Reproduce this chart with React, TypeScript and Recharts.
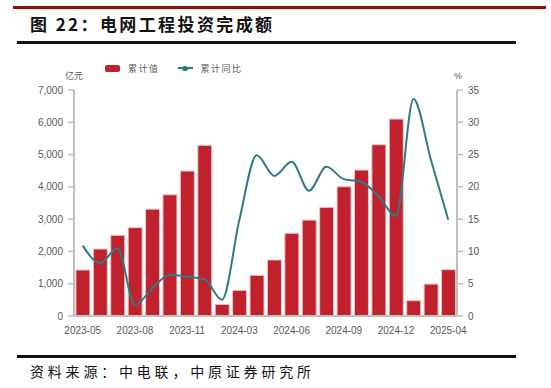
import React from "react";
import { ComposedChart, Bar, Line, XAxis, YAxis } from "recharts";

const categories = [
  "2023-05", "2023-06", "2023-07", "2023-08", "2023-09", "2023-10", "2023-11", "2023-12",
  "2024-02", "2024-03", "2024-04", "2024-05", "2024-06", "2024-07", "2024-08", "2024-09",
  "2024-10", "2024-11", "2024-12", "2025-02", "2025-03", "2025-04",
];
const cumulativeValue = [
  1425, 2075, 2500, 2735, 3310, 3755, 4490, 5285,
  360, 795, 1260, 1735, 2560, 2970, 3365, 4005,
  4520, 5305, 6100, 475, 990, 1435,
];
const cumulativeYoY = [
  10.9, 8.2, 10.5, 1.7, 4.3, 6.4, 6.1, 5.7,
  2.5, 14.9, 24.9, 21.7, 23.9, 19.4, 23.1, 21.2,
  20.8, 18.5, 15.5, 33.6, 24.2, 14.9,
];
const leftTicks = [0, 1000, 2000, 3000, 4000, 5000, 6000, 7000];
const rightTicks = [0, 5, 10, 15, 20, 25, 30, 35];

const data = categories.map((c, i) => ({
  name: c,
  value: cumulativeValue[i],
  yoy: cumulativeYoY[i],
}));

const RED = "#C0212C";
const TEAL = "#2F7B83";
const AXIS = "#BFBFBF";
const tickStyle = { fontSize: 10, fill: "#595959", fontFamily: "Liberation Sans, Arial, sans-serif" };

export default function App() {
  return (
    <div style={{ position: "absolute", left: 0, top: 0, width: 551, height: 388, background: "#fff", overflow: "hidden" }}>
      <div style={{ position: "absolute", left: 13, top: 6, width: 533, height: 2.5, background: "#8E0E0E" }} />
      <div
        style={{
          position: "absolute", left: 30, top: 13, fontSize: 17, fontWeight: 700, letterSpacing: 2.4,
          fontFamily: "'Noto Sans CJK SC', sans-serif", color: "#111", lineHeight: "22px", whiteSpace: "nowrap",
        }}
      >
        图 22：电网工程投资完成额
      </div>
      <div style={{ position: "absolute", left: 17, top: 41, width: 499, height: 2.5, background: "#111" }} />

      <div style={{ position: "absolute", left: 0, top: 0 }}>
        <ComposedChart
          width={551}
          height={350}
          data={data}
          margin={{ top: 90, right: 0, bottom: 4, left: 0 }}
          barCategoryGap="11%"
        >
          <XAxis
            dataKey="name"
            interval={2}
            tickLine={false}
            axisLine={{ stroke: AXIS, strokeWidth: 2 }}
            tick={tickStyle}
            tickMargin={5}
            height={30}
          />
          <YAxis
            yAxisId="left"
            orientation="left"
            width={74}
            domain={[0, 7000]}
            ticks={leftTicks}
            interval={0}
            tickFormatter={(v: number) => v.toLocaleString("en-US")}
            axisLine={{ stroke: AXIS, strokeWidth: 2 }}
            tickLine={{ stroke: AXIS, strokeWidth: 1.5 }}
            tickSize={6}
            tickMargin={5}
            tick={tickStyle}
          />
          <YAxis
            yAxisId="right"
            orientation="right"
            width={94}
            domain={[0, 35]}
            ticks={rightTicks}
            interval={0}
            axisLine={{ stroke: AXIS, strokeWidth: 2 }}
            tickLine={{ stroke: AXIS, strokeWidth: 1.5 }}
            tickSize={6}
            tickMargin={5}
            tick={tickStyle}
          />
          <Bar yAxisId="left" dataKey="value" fill={RED} stroke="#EBC9CB" strokeWidth={1} isAnimationActive={false} />
          <Line
            yAxisId="right"
            dataKey="yoy"
            type="monotone"
            stroke={TEAL}
            strokeWidth={2}
            dot={false}
            isAnimationActive={false}
          />
        </ComposedChart>
      </div>

      <div style={{ position: "absolute", left: 65, top: 70, fontSize: 9, color: "#595959", fontFamily: "'Noto Sans CJK SC', sans-serif", lineHeight: "12px" }}>亿元</div>
      <div style={{ position: "absolute", left: 454, top: 70, fontSize: 9, color: "#595959", fontFamily: "Liberation Sans, sans-serif", lineHeight: "12px" }}>%</div>

      <div style={{ position: "absolute", left: 105, top: 62, height: 12, display: "flex", alignItems: "center", fontSize: 9, color: "#595959", fontFamily: "'Noto Sans CJK SC', sans-serif", whiteSpace: "nowrap" }}>
        <span style={{ display: "inline-block", width: 15, height: 7, background: RED, borderRadius: 2, marginRight: 8 }} />
        <span style={{ letterSpacing: 1.5 }}>累计值</span>
        <span style={{ display: "inline-block", position: "relative", width: 15, height: 7, marginLeft: 18, marginRight: 8 }}>
          <span style={{ position: "absolute", left: 0, top: 2.5, width: 15, height: 2, background: TEAL }} />
          <span style={{ position: "absolute", left: 4.5, top: 1, width: 6, height: 5, borderRadius: 3, background: TEAL }} />
        </span>
        <span style={{ letterSpacing: 1.5 }}>累计同比</span>
      </div>

      <div style={{ position: "absolute", left: 17, top: 355, width: 499, height: 3, background: "#111" }} />
      <div
        style={{
          position: "absolute", left: 30, top: 362, fontSize: 14, letterSpacing: 3.8, color: "#111",
          fontFamily: "'Noto Sans CJK SC', sans-serif", lineHeight: "18px", whiteSpace: "nowrap",
        }}
      >
        资料来源：中电联，中原证券研究所
      </div>
    </div>
  );
}
